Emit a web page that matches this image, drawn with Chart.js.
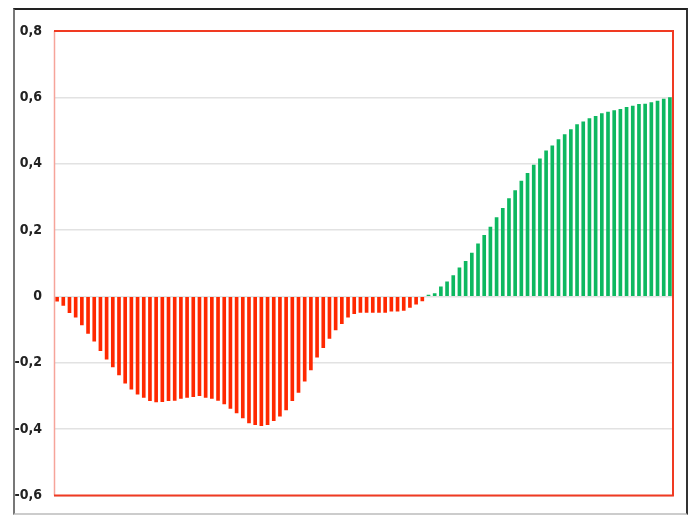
<!DOCTYPE html>
<html>
<head>
<meta charset="utf-8">
<title>Bars</title>
<script src="https://cdn.jsdelivr.net/npm/chart.js@4/dist/chart.umd.min.js"></script>
<style>
  body { margin: 0; background: #fff; }
  #wrap { position: relative; width: 691px; height: 516px; }
  #frame {
    position: absolute; left: 13px; top: 8px; width: 671px; height: 503px;
    border-top: 2px solid #222; border-right: 2px solid #333;
    border-left: 2px solid #777; border-bottom: 2px solid #ccc;
    pointer-events: none;
  }
  canvas { position: absolute; left: 0; top: 0; }
</style>
</head>
<body>
<div id="wrap">
  <canvas id="chart" width="691" height="516"></canvas>
  <div id="frame"></div>
</div>
<script>
// values, one per bar (100 bars)
const negativePart = [
  -0.014, -0.027, -0.049, -0.062, -0.086, -0.111, -0.135, -0.163, -0.189, -0.212,
  -0.236, -0.261, -0.279, -0.294, -0.304, -0.314, -0.318, -0.317, -0.314, -0.313,
  -0.307, -0.304, -0.302, -0.299, -0.304, -0.307, -0.313, -0.324, -0.337, -0.351,
  -0.366, -0.381, -0.386, -0.389, -0.386, -0.374, -0.361, -0.342, -0.314, -0.289,
  -0.255, -0.221, -0.183, -0.154, -0.126, -0.101, -0.082, -0.062, -0.052, -0.048,
  -0.048, -0.048, -0.048, -0.048, -0.044, -0.044, -0.042, -0.033, -0.023, -0.013
];
const positivePart = [
  0.004, 0.009, 0.029, 0.044, 0.063, 0.086, 0.106, 0.131, 0.159, 0.184,
  0.209, 0.238, 0.266, 0.295, 0.319, 0.348, 0.371, 0.396, 0.415, 0.439,
  0.454, 0.473, 0.488, 0.503, 0.518, 0.526, 0.536, 0.543, 0.551, 0.556,
  0.560, 0.564, 0.570, 0.574, 0.579, 0.580, 0.584, 0.589, 0.595, 0.599
];
const values = negativePart.concat(positivePart);
const categories = values.map((v, i) => String(i + 1));
const yTicks = [0.8, 0.6, 0.4, 0.2, 0, -0.2, -0.4, -0.6];

const RED = '#ff2800';
const GREEN = '#0db860';
const barColors = values.map(v => v < 0 ? RED : GREEN);

// red box round the plot area
const plotBorder = {
  id: 'plotBorder',
  afterDraw(chart) {
    const { ctx, chartArea: a } = chart;
    ctx.save();
    ctx.strokeStyle = '#f6a49a';
    ctx.lineWidth = 1.5;
    ctx.beginPath();
    ctx.moveTo(a.left + 0.5, a.top);
    ctx.lineTo(a.left + 0.5, a.bottom);
    ctx.stroke();
    ctx.strokeStyle = '#f03a22';
    ctx.lineWidth = 2;
    ctx.beginPath();
    ctx.moveTo(a.left, a.top);
    ctx.lineTo(a.right, a.top);
    ctx.lineTo(a.right, a.bottom);
    ctx.lineTo(a.left, a.bottom);
    ctx.stroke();
    ctx.restore();
  }
};

new Chart(document.getElementById('chart'), {
  type: 'bar',
  data: {
    labels: categories,
    datasets: [{
      data: values,
      backgroundColor: barColors,
      barThickness: 3,
      borderWidth: 0
    }]
  },
  options: {
    responsive: false,
    animation: false,
    devicePixelRatio: 1,
    layout: { padding: { top: 31, right: 18, bottom: 19, left: 0 } },
    plugins: {
      legend: { display: false },
      tooltip: { enabled: false }
    },
    scales: {
      x: {
        display: true,
        grid: { display: false, drawTicks: false },
        border: { display: false },
        ticks: { display: false }
      },
      y: {
        min: -0.6,
        max: 0.8,
        afterFit(scale) { scale.width = 54; },
        afterBuildTicks(scale) { scale.ticks = yTicks.map(v => ({ value: v })); },
        grid: { color: '#e2e2e2', lineWidth: 1.5, drawTicks: false },
        border: { display: false },
        ticks: {
          padding: 12,
          color: '#222',
          font: { family: "'DejaVu Sans Condensed', 'DejaVu Sans', sans-serif", size: 14, weight: 'bold' },
          callback: v => String(Math.round(v * 10) / 10).replace('.', ',')
        }
      }
    }
  },
  plugins: [plotBorder]
});
</script>
</body>
</html>
